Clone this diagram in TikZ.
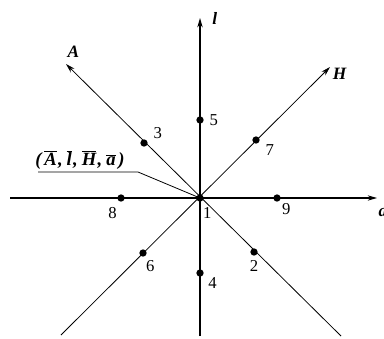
\documentclass[tikz,border=0pt]{standalone}
\usepackage{fontspec}
\setmainfont{Liberation Serif}
\usetikzlibrary{arrows.meta,positioning}
\tikzset{axis/.style={-{Stealth[length=7pt,width=4pt]},line width=0.6pt},pt/.style={circle,fill,inner sep=0pt,minimum size=5.5pt},num/.style={font=\fontsize{12.5}{14}\selectfont,inner sep=1pt},lab/.style={font=\fontsize{13}{15}\selectfont\bfseries\itshape,inner sep=1pt}}
\newcommand{\ol}[1]{$\overline{\hbox{#1}}$}
\begin{document}
\begin{tikzpicture}[x=0.75pt,y=-0.75pt]
\useasboundingbox (0,0) rectangle (384,338);
\coordinate (o) at (200,198);
\coordinate (lTop) at (200,18);\coordinate (lBot) at (200,336);
\coordinate (aRight) at (377,198);\coordinate (aLeft) at (10,198);
\coordinate (hTop) at (330,67);\coordinate (hBot) at (61,335);
\coordinate (AtTop) at (66,64);\coordinate (AtBot) at (341,336);
\draw[axis,line width=1.1pt] (lBot) -- (lTop);
\draw[axis,line width=0.9pt] (aLeft) -- (aRight);
\draw[axis] (hBot) -- (hTop);
\draw[axis] (AtBot) -- (AtTop);
\node[lab,right=8pt of lTop] (lLab) {l};
\node[lab,below right=6.5pt and 0pt of aRight] (aLab) {a};
\node[lab,below right=0pt and 1pt of hTop] (hLab) {H};
\node[lab,above right=4pt and 0pt of AtTop] (ALab) {A};
% points on the axes
\node[pt] (p1) at (o) {};
\node[pt] (p2) at (254,252) {};
\node[pt] (p3) at (144,143) {};
\node[pt] (p4) at (200,273) {};
\node[pt] (p5) at (200,120) {};
\node[pt] (p6) at (143,253) {};
\node[pt] (p7) at (256,140) {};
\node[pt] (p8) at (121,198) {};
\node[pt] (p9) at (277,198) {};
\node[num,below right=4pt and -1pt of p1] {1};
\node[num,below=2pt of p2] {2};
\node[num,above right=0pt and 4pt of p3] {3};
\node[num,below right=0pt and 3pt of p4] {4};
\node[num,right=3pt of p5] {5};
\node[num,below right=2.5pt and -1pt of p6] {6};
\node[num,below right=0pt and 4pt of p7] {7};
\node[num,below left=4pt and 0pt of p8] {8};
\node[num,below right=1pt and 0.5pt of p9] {9};
% tuple label with leader
\node[lab,inner sep=0pt,font=\fontsize{14}{16}\selectfont\bfseries\itshape] (tup) at (80,160) {(\hspace{2pt}\ol{A}\hspace{1pt},\hspace{3pt}\ol{l}\hspace{1pt},\hspace{3pt}\ol{H}\hspace{1pt},\hspace{3pt}\ol{a}\hspace{2pt})};
\coordinate (u1) at (38,172);\coordinate (u2) at (138,172);
\draw[line width=0.6pt] (u1) -- (u2) -- (o);
\end{tikzpicture}
\end{document}
